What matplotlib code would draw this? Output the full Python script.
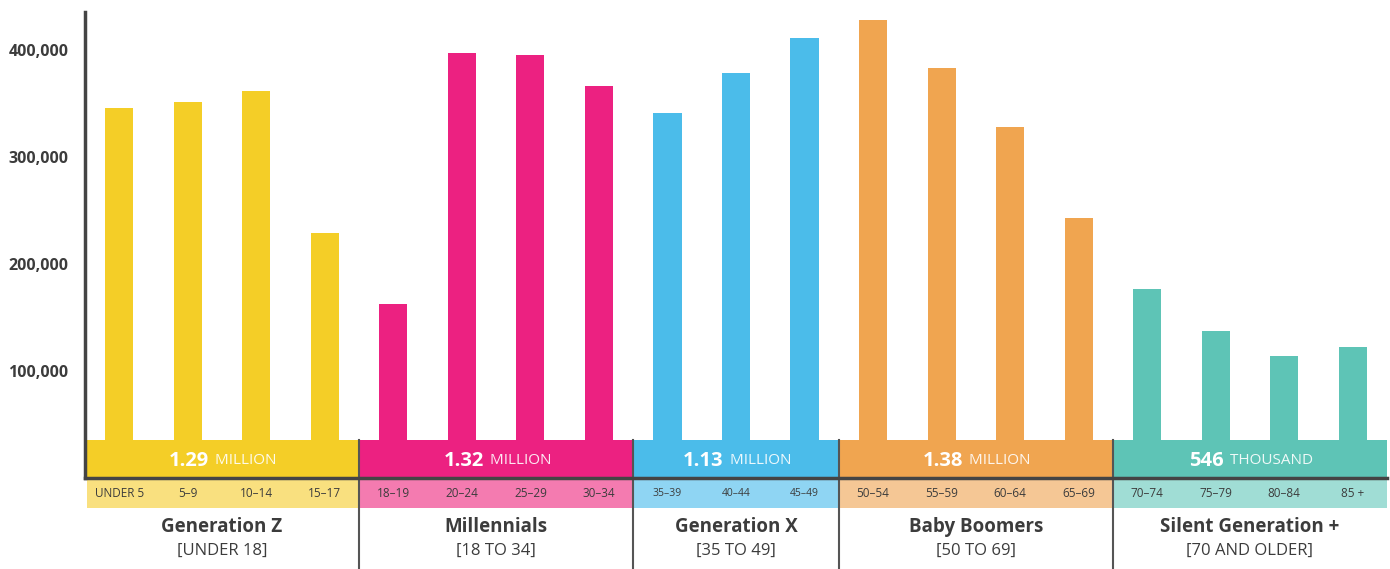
import matplotlib
matplotlib.use('Agg')
import matplotlib.pyplot as plt
from matplotlib.patches import Rectangle

# Population by age bracket
ages = ['UNDER 5', '5\u20139', '10\u201314', '15\u201317',
        '18\u201319', '20\u201324', '25\u201329', '30\u201334',
        '35\u201339', '40\u201344', '45\u201349',
        '50\u201354', '55\u201359', '60\u201364', '65\u201369',
        '70\u201374', '75\u201379', '80\u201384', '85 +']
population = [346000, 351500, 362000, 229000,
              162500, 397500, 395500, 366500,
              341000, 378500, 411500,
              428000, 383500, 328000, 243000,
              176500, 137500, 114000, 122500]

generations = ['Generation Z', 'Millennials', 'Generation X', 'Baby Boomers', 'Silent Generation +']
gen_ranges = ['[UNDER 18]', '[18 TO 34]', '[35 TO 49]', '[50 TO 69]', '[70 AND OLDER]']
gen_sizes = [4, 4, 3, 4, 4]
gen_totals = ['1.29', '1.32', '1.13', '1.38', '546']
gen_units = ['MILLION', 'MILLION', 'MILLION', 'MILLION', 'THOUSAND']

colors = ['#F4CE27', '#EC2181', '#4BBCEA', '#F0A550', '#5EC4B6']
light_colors = ['#F9E07F', '#F47BB0', '#8FD5F3', '#F5C795', '#A0DDD5']

plt.rcParams['font.family'] = ['Open Sans', 'DejaVu Sans']
dark = '#3c3c3c'

fig = plt.figure(figsize=(13.9, 5.69), dpi=100)
ax = fig.add_axes([85 / 1390, 0, 1302 / 1390, 557 / 569])

ymax = 435500
ymin = -85000
band_top = 35500
strip_bot = -28000
ax.set_xlim(-0.5, len(ages) - 0.5)
ax.set_ylim(ymin, ymax)

bar_colors = []
for c, n in zip(colors, gen_sizes):
    bar_colors += [c] * n
ax.bar(range(len(ages)), population, width=0.41, color=bar_colors, zorder=2)

start = 0
for i, n in enumerate(gen_sizes):
    x0 = start - 0.5
    x1 = start + n - 0.5
    left = x0 + 0.03 if i == 0 else x0
    ax.add_patch(Rectangle((left, 0), x1 - left, band_top, color=colors[i], zorder=3, lw=0))
    ax.add_patch(Rectangle((left, strip_bot), x1 - left, -2000 - strip_bot,
                           color=light_colors[i], zorder=3, lw=0))
    if i > 0:
        ax.plot([x0, x0], [band_top, ymin], color='#555555', lw=1.5, zorder=5, clip_on=False)
    for k in range(n):
        ax.text(start + k, -14000, ages[start + k], ha='center', va='center',
                fontsize=7.5 if n == 3 else 8.5, color=dark, zorder=4)
    cx = (x0 + x1) / 2
    ax.text(cx, -46000, generations[i], ha='center', va='center', fontsize=13.5,
            fontweight='bold', color=dark)
    ax.text(cx, -68500, gen_ranges[i], ha='center', va='center', fontsize=12,
            color=dark)
    start += n

# axis lines
ax.plot([-0.5, -0.5], [0, ymax], color='#444444', lw=2.5, zorder=5, clip_on=False)
ax.plot([-0.5, len(ages) - 0.5], [0, 0], color='#444444', lw=2.5, zorder=5, clip_on=False)

for s in ax.spines.values():
    s.set_visible(False)
ax.set_xticks([])
ax.set_yticks([100000, 200000, 300000, 400000])
ax.set_yticklabels(['{:,}'.format(v) for v in [100000, 200000, 300000, 400000]],
                   fontsize=11.5, fontweight='bold', color=dark)
ax.tick_params(axis='y', length=0, pad=12)

# totals inside the band, centered as one phrase
fig.canvas.draw()
renderer = fig.canvas.get_renderer()
start = 0
for i, n in enumerate(gen_sizes):
    cx = start - 0.5 + n / 2
    t1 = ax.text(cx, 16000, gen_totals[i], ha='left', va='center', fontsize=14.5,
                 fontweight='bold', color='white', zorder=6)
    t2 = ax.text(cx, 16000, ' ' + gen_units[i], ha='left', va='center', fontsize=11,
                 color='#FFFFFF', alpha=0.9, zorder=6)
    w1 = t1.get_window_extent(renderer).width
    w2 = t2.get_window_extent(renderer).width
    px = ax.transData.transform((cx, 0))[0]
    x_start = px - (w1 + w2) / 2
    inv = ax.transData.inverted()
    t1.set_x(inv.transform((x_start, 0))[0])
    t2.set_x(inv.transform((x_start + w1 + 2, 0))[0])
    start += n

fig.savefig('out.png', dpi=100)
